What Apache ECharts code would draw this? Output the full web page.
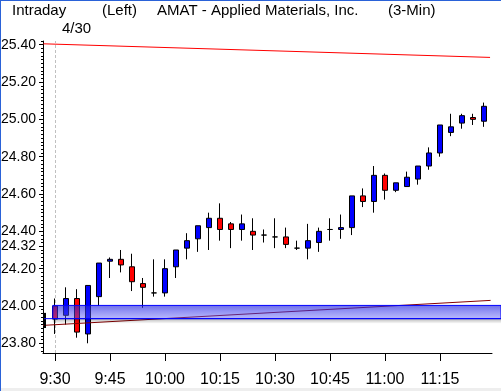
<!DOCTYPE html>
<html><head><meta charset="utf-8">
<script src="https://cdn.jsdelivr.net/npm/echarts@6/dist/echarts.min.js"></script>
<style>html,body{margin:0;padding:0;background:#fff}#c{width:501px;height:391px}</style>
</head><body><div id="c"></div>
<script>
// ---- data ----
const times = ['9:30','9:33','9:36','9:39','9:42','9:45','9:48','9:51','9:54','9:57',
  '10:00','10:03','10:06','10:09','10:12','10:15','10:18','10:21','10:24','10:27',
  '10:30','10:33','10:36','10:39','10:42','10:45','10:48','10:51','10:54','10:57',
  '11:00','11:03','11:06','11:09','11:12','11:15','11:18','11:21','11:24','11:27'];
const opens  = [24.00,23.95,24.04,23.85,24.05,24.24,24.25,24.21,24.12,24.07,
  24.07,24.21,24.31,24.36,24.42,24.47,24.44,24.41,24.40,24.38,
  24.37,24.37,24.31,24.31,24.34,24.41,24.41,24.42,24.59,24.56,
  24.70,24.62,24.64,24.68,24.75,24.82,24.93,24.98,25.01,24.99];
const closes = [23.93,24.04,23.86,24.11,24.23,24.25,24.22,24.13,24.10,24.07,
  24.20,24.30,24.35,24.43,24.47,24.41,24.41,24.44,24.38,24.38,
  24.37,24.33,24.31,24.35,24.40,24.41,24.42,24.59,24.56,24.70,
  24.62,24.66,24.69,24.75,24.82,24.97,24.96,25.02,25.00,25.07];
const lows   = [23.85,23.90,23.83,23.80,24.00,24.15,24.18,24.08,23.99,24.05,
  24.05,24.15,24.25,24.29,24.30,24.35,24.31,24.35,24.30,24.34,
  24.31,24.31,24.30,24.25,24.29,24.35,24.36,24.38,24.53,24.50,
  24.57,24.61,24.64,24.65,24.73,24.80,24.91,24.95,24.97,24.96];
const highs  = [24.04,24.10,24.09,24.11,24.23,24.26,24.30,24.28,24.15,24.25,
  24.25,24.30,24.39,24.43,24.50,24.55,24.45,24.49,24.47,24.41,
  24.47,24.42,24.35,24.44,24.42,24.47,24.49,24.59,24.63,24.75,
  24.71,24.66,24.72,24.75,24.85,24.97,25.03,25.03,25.03,25.09];
const xTickLabels = ['9:30','9:45','10:00','10:15','10:30','10:45','11:00','11:15'];
const yTickLabels = [23.80, 24.00, 24.20, 24.32, 24.40, 24.60, 24.80, 25.00, 25.20, 25.40];
const upperTrendX = [-1.06, 39.55];
const upperTrendY = [25.405, 25.332];
const lowerTrendX = [-1.09, 39.6];
const lowerTrendY = [23.896, 24.030];
const zoneX = [-0.2, 40.55];
const zoneY = [23.932, 24.003];
const zoneShadowY = [23.905, 23.932];
const zoneLineX = [-1.0, 40.55];
const zoneLineY = 23.932;
const rangeMarkerX = -0.91;
const rangeMarkerY = [23.882, 23.963];
const sessionStart = '9:30';

// ---- layout ----
const Y_MIN = 23.748, Y_MAX = 25.42;
const X_MIN = -12 / 11, X_MAX = 437 / 11, X_MAX_FULL = 446 / 11;
const minorTicks = [];
for (let k = 0; k <= 83; k++) minorTicks.push(+(23.76 + k * 0.02).toFixed(2));
const xTicks = xTickLabels.map(l => times.indexOf(l));
const candles = times.map((t, i) => [i, opens[i], closes[i], lows[i], highs[i]]);
const titleFont = '15px "Liberation Sans", Arial, sans-serif';

const chart = echarts.init(document.getElementById('c'), null, {renderer: 'canvas'});
chart.setOption({
  animation: false,
  backgroundColor: '#ffffff',
  grid: [
    {left: 43, right: 9, top: 41, bottom: 38, outerBoundsMode: 'none'},
    {left: 43, right: 0, top: 41, bottom: 38, outerBoundsMode: 'none'}
  ],
  xAxis: [
    {gridIndex: 0, type: 'value', min: X_MIN, max: X_MAX,
     axisLine: {show: true, onZero: false, lineStyle: {color: '#000', width: 1}},
     axisTick: {show: true, customValues: xTicks, length: 8, lineStyle: {color: '#000', width: 1}},
     axisLabel: {show: true, customValues: xTicks, formatter: v => times[Math.round(v)], margin: 19,
       color: '#000', fontSize: 16, fontFamily: '"Liberation Sans", Arial, sans-serif'},
     splitLine: {show: false}},
    {gridIndex: 1, type: 'value', min: X_MIN, max: X_MAX_FULL, show: false}
  ],
  yAxis: [
    {gridIndex: 0, type: 'value', min: Y_MIN, max: Y_MAX, position: 'left',
     axisLine: {show: true, onZero: false, lineStyle: {color: '#000', width: 1}},
     axisTick: {show: true, customValues: minorTicks, length: 2, lineStyle: {color: '#000', width: 1}},
     axisLabel: {show: false}, splitLine: {show: false}},
    {gridIndex: 0, type: 'value', min: Y_MIN, max: Y_MAX, position: 'left', offset: 0,
     axisLine: {show: false, onZero: false},
     axisTick: {show: true, customValues: yTickLabels, length: 4, lineStyle: {color: '#000', width: 1}},
     axisLabel: {show: true, customValues: yTickLabels, formatter: v => v.toFixed(2), margin: 7,
       color: '#000', fontSize: 14, fontFamily: '"Liberation Sans", Arial, sans-serif'},
     splitLine: {show: false}},
    {gridIndex: 1, type: 'value', min: Y_MIN, max: Y_MAX, show: false}
  ],
  series: [
    {type: 'candlestick', xAxisIndex: 0, yAxisIndex: 0, data: candles, barWidth: 5, z: 3,
     encode: {x: 0, y: [1, 2, 3, 4]},
     itemStyle: {color: '#0000ff', color0: '#ff0000', borderColor: '#000', borderColor0: '#000', borderWidth: 1},
     markLine: {silent: true, z: 1, symbol: ['none', 'none'], label: {show: false},
       lineStyle: {color: '#c0c0c0', type: [3, 2], width: 1},
       data: [{xAxis: times.indexOf(sessionStart)}]}},
    {type: 'line', xAxisIndex: 0, yAxisIndex: 0, silent: true, symbol: 'none', z: 4,
     data: [[upperTrendX[0], upperTrendY[0]], [upperTrendX[1], upperTrendY[1]]],
     lineStyle: {color: '#ff0000', width: 1}},
    {type: 'line', xAxisIndex: 0, yAxisIndex: 0, silent: true, symbol: 'none', z: 4,
     data: [[lowerTrendX[0], lowerTrendY[0]], [lowerTrendX[1], lowerTrendY[1]]],
     lineStyle: {color: '#880000', width: 1}},
    {type: 'line', xAxisIndex: 0, yAxisIndex: 0, silent: true, symbol: 'none', z: 4,
     data: [[rangeMarkerX, rangeMarkerY[0]], [rangeMarkerX, rangeMarkerY[1]]],
     lineStyle: {color: '#000', width: 2}},
    {type: 'line', xAxisIndex: 1, yAxisIndex: 2, silent: true, symbol: 'none', z: 8,
     data: [[zoneLineX[0], zoneLineY], [zoneLineX[1], zoneLineY]],
     lineStyle: {color: '#0000ff', width: 1},
     markArea: {silent: true, z: 7,
       data: [
         [{coord: [zoneX[0], zoneY[1]], itemStyle: {opacity: 1, borderColor: '#0000ff', borderWidth: 1,
            color: {type: 'linear', x: 0, y: 0, x2: 0, y2: 1, colorStops: [
              {offset: 0, color: 'rgba(30,30,220,0.65)'}, {offset: 1, color: 'rgba(90,90,250,0.42)'}]}}},
          {coord: [zoneX[1], zoneY[0]]}],
         [{coord: [zoneX[0], zoneShadowY[1]], itemStyle: {opacity: 1, borderWidth: 0,
            color: {type: 'linear', x: 0, y: 0, x2: 0, y2: 1, colorStops: [
              {offset: 0, color: 'rgba(0,0,0,0.28)'}, {offset: 1, color: 'rgba(0,0,0,0)'}]}}},
          {coord: [zoneX[1], zoneShadowY[0]]}]
       ]}}
  ],
  graphic: [
    {type: 'rect', left: 0, top: 0, silent: true, shape: {width: 1, height: 391}, style: {fill: '#2a62d8'}},
    {type: 'rect', left: 0, top: 0, silent: true, shape: {width: 501, height: 1}, style: {fill: '#2a62d8'}},
    {type: 'rect', left: 1, top: 388, silent: true, shape: {width: 500, height: 3}, style: {fill: '#eeeeee'}},
    {type: 'text', left: 12, top: 3, silent: true, style: {text: 'Intraday', font: titleFont, fill: '#000'}},
    {type: 'text', left: 102, top: 3, silent: true, style: {text: '(Left)', font: titleFont, fill: '#000'}},
    {type: 'text', left: 157, top: 3, silent: true, style: {text: 'AMAT - Applied Materials, Inc.', font: titleFont, fill: '#000'}},
    {type: 'text', left: 388, top: 3, silent: true, style: {text: '(3-Min)', font: titleFont, fill: '#000'}},
    {type: 'text', left: 62, top: 21, silent: true, style: {text: '4/30', font: titleFont, fill: '#000'}}
  ]
});
</script>
</body></html>
